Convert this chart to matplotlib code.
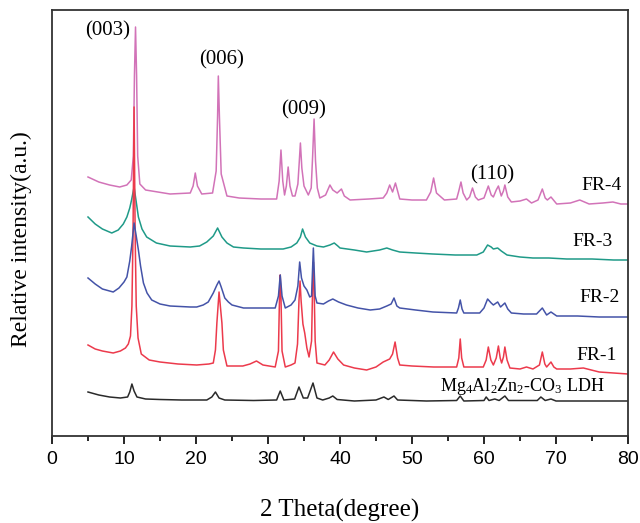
import matplotlib
matplotlib.use("Agg")
import matplotlib.pyplot as plt
from matplotlib.ticker import MultipleLocator

plt.rcParams['font.family'] = 'Liberation Sans'
plt.rcParams['mathtext.fontset'] = 'custom'
plt.rcParams['mathtext.rm'] = 'Liberation Serif'
plt.rcParams['mathtext.it'] = 'Liberation Serif:italic'

# ---------------- data ----------------
fr4_x = [5.0, 6.5, 8.0, 9.4, 10.4, 11.0, 11.3, 11.45, 11.6, 11.75, 11.9, 12.2, 13.0, 16.4, 19.2, 19.6, 19.9, 20.2, 20.8,
         22.3, 22.8, 23.0, 23.1, 23.25, 23.5, 24.3, 26.0, 29.0, 31.2, 31.55, 31.8, 32.05, 32.3, 32.55, 32.8, 33.05,
         33.4, 33.75, 34.15, 34.35, 34.5, 34.7, 35.0, 35.6, 36.0, 36.2, 36.4, 36.6, 36.85, 37.2, 38.0, 38.6, 39.0,
         39.6, 40.2, 40.6, 41.4, 44.0, 46.0, 46.5, 46.9, 47.3, 47.7, 48.3, 50.0, 52.0, 52.6, 53.0, 53.4, 54.5, 56.2,
         56.5, 56.8, 57.1, 57.6, 58.0, 58.4, 58.8, 59.2, 60.0, 60.3, 60.6, 61.0, 61.3, 61.7, 62.0, 62.4, 62.7, 62.9,
         63.3, 63.8, 65.0, 65.9, 66.6, 67.5, 68.1, 68.5, 68.8, 69.3, 70.1, 72.0, 73.3, 74.6, 76.5, 77.9, 79.0, 80.0]
fr4_y = [259, 254, 251, 249, 251, 256, 280, 360, 409, 360, 280, 252, 246, 242, 243, 250, 263, 250, 242,
         243, 265, 320, 360, 320, 262, 240, 238, 237, 237, 255, 286, 255, 241, 250, 269, 250,
         240, 240, 252, 275, 293, 268, 250, 241, 248, 280, 317, 275, 248, 238, 241, 251, 246,
         243, 247, 240, 236, 237, 238, 243, 251, 244, 253, 237, 236, 236, 244, 258, 243, 236, 237,
         245, 254, 243, 236, 239, 248, 239, 236, 238, 244, 250, 241, 239, 246, 250, 240, 245, 251,
         239, 234, 235, 237, 233, 236, 247, 238, 236, 239, 232, 233, 236, 232, 233, 234, 232, 232]

fr3_x = [5.0, 6.0, 7.0, 8.3, 9.2, 9.9, 10.4, 10.8, 11.05, 11.4, 11.7, 12.0, 12.5, 13.15, 14.5, 16.4, 19.2, 20.5,
         21.5, 22.4, 23.0, 23.6, 24.3, 25.2, 26.6, 29.0, 32.1, 33.2, 34.0, 34.5, 34.8, 35.2, 35.8, 36.8, 37.7,
         38.6, 39.2, 39.7, 40.0, 42.0, 43.7, 45.5, 46.5, 47.3, 48.3, 50.5, 52.9, 56.0, 59.0, 59.9, 60.5, 61.0,
         61.3, 61.9, 62.4, 63.2, 65.0, 66.8, 69.0, 71.5, 75.0, 78.0, 80.0]
fr3_y = [219, 212, 207, 203, 206, 212, 219, 228, 236, 249, 234, 219, 207, 199, 193, 190, 189, 190,
         194, 200, 208, 199, 193, 189, 188, 187, 187, 189, 193, 199, 207, 199, 193, 190, 189,
         191, 193, 190, 188, 186, 184, 186, 188, 186, 184, 183, 182, 181, 181, 184, 191, 189,
         187, 188, 185, 181, 179, 178, 178, 177, 177, 176, 176]

fr2_x = [5.0, 6.0, 7.0, 8.5, 9.3, 10.0, 10.4, 10.8, 11.05, 11.4, 11.7, 12.0, 12.3, 12.7, 13.2, 13.85, 15.0, 16.4,
         19.2, 20.1, 21.0, 21.7, 22.4, 22.9, 23.2, 23.5, 24.0, 24.5, 25.0, 26.6, 28.4, 31.0, 31.45, 31.7, 31.95,
         32.4, 33.2, 33.75, 34.15, 34.4, 34.65, 35.0, 35.4, 35.8, 36.05, 36.3, 36.55, 36.8, 37.7, 38.4, 39.0,
         39.8, 40.9, 42.5, 44.2, 45.5, 46.5, 47.1, 47.5, 47.9, 48.3, 50.5, 52.9, 56.2, 56.45, 56.7, 56.95, 57.2,
         59.4, 60.0, 60.5, 61.0, 61.3, 61.9, 62.3, 62.9, 63.3, 63.8, 65.5, 67.3, 68.1, 68.7, 69.3, 70.1, 73.0,
         76.0, 80.0]
fr2_y = [158, 152, 147, 144, 148, 154, 159, 175, 189, 213, 200, 186, 170, 153, 143, 136, 132, 130,
         129, 129, 131, 134, 143, 151, 155, 149, 138, 134, 131, 128, 128, 128, 140, 161, 140,
         128, 131, 136, 150, 174, 158, 150, 146, 139, 140, 188, 140, 133, 132, 135, 137,
         134, 131, 128, 126, 127, 130, 132, 138, 130, 128, 126, 124, 123, 128, 136, 127, 123,
         123, 128, 137, 133, 131, 134, 129, 133, 127, 123, 122, 122, 128, 121, 124, 120, 120,
         119, 119]

fr1_x = [5.0, 6.0, 7.0, 8.5, 9.5, 10.2, 10.6, 10.9, 11.1, 11.25, 11.4, 11.55, 11.7, 11.95, 12.4, 13.5, 15.0, 17.5,
         20.1, 21.8, 22.4, 22.7, 22.9, 23.2, 23.6, 23.8, 24.3, 25.2, 26.5, 27.5, 28.4, 29.3, 31.0, 31.45,
         31.6, 31.7, 31.8, 31.95, 32.4, 33.2, 33.75, 34.1, 34.3, 34.45, 34.6, 34.85, 35.1, 35.4, 35.7, 36.05,
         36.2, 36.3, 36.4, 36.55, 36.8, 37.9, 38.5, 39.1, 39.7, 40.5, 42.0, 43.7, 45.0, 46.0, 46.9, 47.3, 47.65,
         48.0, 48.3, 50.0, 53.0, 56.2, 56.5, 56.7, 56.9, 57.2, 59.9, 60.3, 60.6, 60.95, 61.3, 61.7, 62.0, 62.25,
         62.45, 62.7, 62.9, 63.2, 63.6, 65.0, 65.9, 66.8, 67.7, 68.1, 68.45, 68.7, 69.3, 69.7, 70.1, 72.0, 73.8,
         76.0, 78.0, 80.0]
fr1_y = [91, 87, 85, 83, 85, 88, 92, 100, 130, 200, 329, 200, 130, 98, 82, 76, 74, 72,
         71, 72, 73, 86, 113, 144, 113, 86, 70, 70, 70, 72, 75, 71, 69, 85,
         140, 161, 140, 85, 69, 71, 73, 92, 135, 155, 135, 112, 103, 88, 79, 95,
         150, 174, 150, 95, 73, 71, 76, 84, 77, 71, 68, 66, 69, 74, 77, 82, 94,
         78, 71, 70, 69, 69, 78, 97, 78, 69, 69, 76, 89, 76, 71, 78, 90, 78,
         73, 79, 89, 76, 68, 67, 69, 67, 71, 84, 72, 69, 74, 69, 67, 67, 68,
         64, 63, 62]

ldh_x = [5.0, 6.5, 8.0, 9.5, 10.5, 10.8, 11.1, 11.4, 11.8, 13.0, 15.0, 18.0, 21.5, 22.2, 22.7, 23.2, 24.0, 28.0,
         31.2, 31.7, 32.2, 33.7, 34.3, 34.9, 35.5, 36.25, 36.8, 37.6, 38.5, 39.0, 39.6, 42.0, 45.0, 46.1, 46.7,
         47.5, 48.0, 52.0, 56.2, 56.7, 57.2, 60.0, 60.3, 60.7, 61.5, 62.1, 62.9, 63.4, 67.4, 67.9, 68.5, 69.3,
         70.0, 75.0, 80.0]
ldh_y = [44, 41, 39, 38, 39, 44, 52, 45, 39, 37, 36.5, 36, 36, 39, 44, 38, 36, 35.5,
         36, 45, 36, 37, 49, 38, 38, 53, 38, 36, 38, 40, 36.5, 35, 36, 39, 36.5,
         40, 36, 35, 35.5, 40, 35, 35.5, 39, 35.5, 37, 35.5, 40, 35.5, 35.5, 39, 35.5, 37,
         35, 35, 35]

peak_labels = ["(003)", "(006)", "(009)", "(110)"]
peak_label_x = [7.7, 23.6, 34.9, 61.1]
peak_label_y = [405, 376, 326, 261]

series_labels = ["FR-4", "FR-3", "FR-2", "FR-1"]
series_label_x = [76.3, 75.1, 76.1, 75.7]
series_label_y = [251, 194, 138, 81]

ldh_label = r"Mg$_4$Al$_2$Zn$_2$-CO$_3$ LDH"
ldh_label_x = 65.3
ldh_label_y = 45

x_ticks = [0, 10, 20, 30, 40, 50, 60, 70, 80]

# ---------------- figure ----------------
fig = plt.figure(figsize=(6.4, 5.23), dpi=100)
ax = fig.add_axes([52 / 640, 1 - 436 / 523, 576 / 640, 426 / 523])

lw = 1.1
ax.plot(fr4_x, fr4_y, color='#d273b8', lw=lw)
ax.plot(fr3_x, fr3_y, color='#1f9a88', lw=lw)
ax.plot(fr1_x, fr1_y, color='#ec3a4c', lw=lw)
ax.plot(fr2_x, fr2_y, color='#4453a8', lw=lw)
ax.plot(ldh_x, ldh_y, color='#2a2a2a', lw=lw)

serif = 'Liberation Serif'
for t, x, y in zip(peak_labels, peak_label_x, peak_label_y):
    ax.text(x, y, t, ha='center', va='center', fontsize=15, family=serif)
for t, x, y in zip(series_labels, series_label_x, series_label_y):
    ax.text(x, y, t, ha='center', va='center', fontsize=14, family=serif)
ax.text(ldh_label_x, ldh_label_y, ldh_label, ha='center', va='baseline', fontsize=13, family=serif)

ax.set_xlim(0, 80)
ax.set_ylim(0, 426)
ax.set_xticks(x_ticks)
ax.xaxis.set_minor_locator(MultipleLocator(5))
ax.set_yticks([])
ax.tick_params(axis='x', which='major', direction='out', length=6, width=1.2, pad=5,
               labelsize=14)
ax.tick_params(axis='x', which='minor', direction='out', length=3.5, width=1.2)
for s in ax.spines.values():
    s.set_linewidth(1.3)
    s.set_color('#333333')

ax.set_xlabel("2 Theta(degree)", family=serif, fontsize=18, labelpad=22)
ax.set_ylabel("Relative intensity(a.u.)", family=serif, fontsize=17)
ax.yaxis.set_label_coords(-0.035, 0.462)

fig.savefig("out.png", dpi=100)
